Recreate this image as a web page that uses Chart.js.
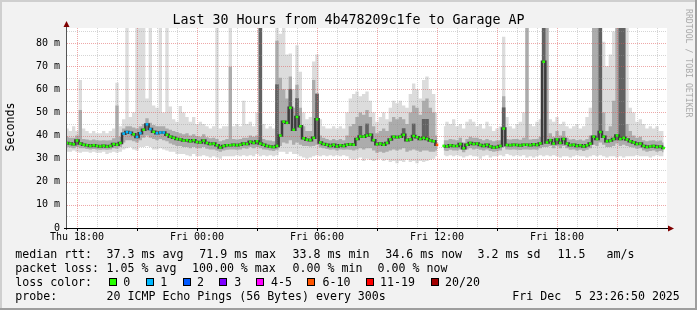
<!DOCTYPE html>
<html>
<head>
<meta charset="utf-8">
<script src="https://cdn.jsdelivr.net/npm/chart.js@4.4.1/dist/chart.umd.min.js"></script>
<style>
body { margin: 0; background: #f2f2f2; }
#wrap { position: relative; width: 697px; height: 310px; overflow: hidden; }
#c { position: absolute; left: 0; top: 0; }
.t { position: absolute; font-family: "DejaVu Sans Mono", monospace; color: #000; white-space: pre; }
.leg { font-size: 11.6px; line-height: 14px; }
.box { position: absolute; width: 8px; height: 8px; box-sizing: border-box; border: 1px solid #000; }
</style>
</head>
<body>
<div id="wrap">
<canvas id="c" width="697" height="310"></canvas>
</div>
<script>
// 30 hours, one slot every 10 minutes, starting Thu 17:30
const startHour = 17.5;
const slotStep = 1 / 6;

const tickHours = [18, 24, 30, 36, 42];
const tickLabels = ['Thu 18:00', 'Fri 00:00', 'Fri 06:00', 'Fri 12:00', 'Fri 18:00'];
const yTicks = [0, 10, 20, 30, 40, 50, 60, 70, 80];

// median rtt (ms)
const median = [
  36.8, 36.5, 36.2, 37.8, 36.5, 36, 35.8, 35.5, 35.8, 35.5,
  35.3, 35.6, 35.2, 35.5, 36.3, 36, 36.8, 40.8, 41.5, 41.2,
  40.5, 39.4, 41, 42.5, 44.8, 42.8, 41.6, 41, 41.3, 41.3,
  40.3, 39.5, 39, 38.5, 38.3, 37.8, 38, 37.5, 38, 37.2,
  37, 37.8, 36.8, 36.3, 36.5, 35.8, 34.8, 35.5, 35.8, 35.8,
  36, 35.8, 36, 36.5, 36.3, 37.3, 36.8, 37.5, 36.5, 36,
  35.5, 35.2, 35, 35.5, 40, 46, 45.5, 52, 42.5, 48,
  44, 38.8, 38.2, 38, 39, 47, 37, 36.3, 36, 35.5,
  36, 35.3, 35.8, 35.5, 36, 36.2, 36, 38.5, 39.6, 39.5,
  40, 40.3, 38, 36.2, 36.5, 36, 36.8, 38.3, 39.5, 39.2,
  39.5, 40.3, 38, 38.3, 39.8, 39.3, 38.5, 39, 38.5, 37.8,
  37.5, 36, null, 35.5, 35.3, 35.8, 35.5, 35.5, 36.3, 34.5,
  36, 36.8, 36.3, 36.5, 35.9, 35.5, 36, 35.3, 34.8, 35,
  35.5, 43, 35.9, 35.8, 36, 35.9, 35.7, 36, 36, 35.8,
  36.2, 35.9, 36.6, 71.9, 37, 38, 36.5, 38.3, 36.8, 38.5,
  36.5, 35.8, 36, 35.5, 35.8, 35.3, 35.8, 36.5, 39.5, 38.5,
  41.5, 39.5, 37.5, 37.8, 38.5, 40, 38.5, 39, 38.3, 37.5,
  37, 36.3, 36.5, 35.5, 35, 35.3, 35.5, 35, 35.3, 34.6
];

// smoke: lowest and highest ping of each slot
const smokeMin = [
  33, 33, 33.5, 33, 32.5, 33, 33, 32.5, 33, 32.5,
  32.5, 33, 32, 32.5, 33, 32.5, 33, 34, 34.5, 35,
  34, 33.5, 35, 35, 35.5, 35, 34, 34, 34.5, 34,
  33.5, 33, 33, 32, 32, 32, 31.5, 31, 32, 31,
  31, 31.5, 31, 30.5, 31, 30.5, 30, 31, 31, 31,
  31, 31.5, 31, 31.5, 31, 31.5, 31, 32, 31, 31.5,
  31, 31.5, 31, 31.5, 33, 33, 32, 33, 32, 32,
  31, 30.5, 30, 30.5, 31, 31.5, 31, 31.5, 31, 31.5,
  31, 31.5, 31, 31.5, 31, 30, 29.5, 30, 30.5, 29,
  30, 29.5, 29, 29.5, 30, 29, 29.5, 28.5, 29, 28,
  29, 28.5, 29.5, 28.5, 29, 28, 29, 28.5, 29, 29.5,
  30, 31, null, 31.5, 31, 31.5, 31, 31.5, 31, 30.5,
  31, 31.5, 31, 31, 30, 31, 31.5, 30.5, 31, 31,
  31.5, 31, 32, 31.5, 31, 31.5, 31, 31.5, 30.5, 31,
  30.5, 31, 31.5, 31, 31.5, 31, 31.5, 31, 30.5, 31,
  31, 30.5, 31, 31.5, 31, 31, 30.5, 31, 31.5, 31,
  31.5, 31, 30.5, 31, 31, 30.5, 31, 30.5, 31, 31,
  31, 31.5, 31, 31, 31, 30.5, 31, 31.5, 31, 31
];
const smokeMax = [
  43, 42, 44, 42, 64, 43, 42, 41, 42, 41,
  41, 42, 41, 42, 43, 62.8, 44, 47, 86.5, 48,
  50, 86.5, 86.5, 86.5, 56, 86.5, 53, 52, 86.5, 50,
  86.5, 52.5, 47, 46, 52.8, 50, 48, 46, 48, 45,
  46, 45, 44, 43, 44, 86.5, 43, 44, 44, 86.5,
  44, 45, 44, 55, 45, 46, 44, 50, 86.5, 45,
  43, 44, 43, 86.5, 84, 86.5, 75, 75.5, 60, 79,
  67.6, 50, 47, 48, 72, 75, 47, 44, 43, 43,
  44, 43, 44, 43, 50, 56, 58, 59, 57, 58,
  59, 55, 50, 46, 48, 50, 47, 52, 55, 54,
  55, 53, 52, 58, 62.5, 60, 56, 64, 65.5, 60,
  58, 50, null, 44, 46, 45, 47, 44, 45, 43,
  46, 47, 46, 44, 45, 43, 46, 44, 42, 43,
  44, 82.7, 48, 44, 43, 45, 46, 50, 86.5, 45,
  44, 46, 47, 86.5, 86.5, 47, 46, 48, 45, 46,
  44, 43, 44, 45, 43, 44, 48, 52, 86.5, 86.5,
  86.5, 80.6, 70, 75, 85, 86.5, 86.5, 86.5, 86.5, 52,
  50, 46, 47, 45, 43, 44, 43, 44, 42, 42
];
// smoke: the denser middle part of the pings
const midLo = [
  35, 34.8, 34.5, 35, 34.5, 34.5, 34.2, 34, 34.2, 34,
  33.8, 34, 33.8, 34, 34.5, 34.3, 35, 37, 38, 38,
  37.5, 37, 38, 39, 40, 39, 38.5, 38, 38.5, 38,
  37.5, 36.5, 36, 35.5, 35.5, 35, 35, 34.5, 35, 34.5,
  34.5, 35, 34.3, 34, 34, 33.5, 33, 33.5, 33.8, 34,
  34, 33.8, 34, 34.5, 34.3, 35, 34.5, 35, 34.5, 34,
  33.8, 33.5, 33.3, 33.8, 35.5, 37, 36.5, 38, 36, 37,
  36, 35.5, 35.5, 35.3, 35.5, 36, 34.8, 34.5, 34.2, 33.8,
  34, 33.5, 34, 33.8, 34, 33.8, 33.5, 34, 34.5, 34,
  34.5, 34.5, 33.5, 32.5, 33, 32.5, 33, 33.5, 34, 33.5,
  34, 34.5, 33, 33.5, 34, 33.5, 33, 33.5, 33.5, 33,
  33, 33.5, null, 33.5, 33.3, 33.8, 33.5, 33.5, 34, 32.8,
  34, 34.5, 34, 34.3, 33.8, 33.5, 34, 33.3, 33, 33.2,
  33.5, 35, 34, 33.8, 34, 33.8, 33.7, 34, 34, 33.8,
  34, 33.8, 34.5, 35, 35, 35.5, 34.5, 35.5, 34.5, 35.5,
  34.5, 33.8, 34, 33.5, 33.8, 33.3, 33.8, 34.5, 36, 35.5,
  37, 36, 35, 35, 35.5, 36.5, 35.5, 36, 35.5, 35,
  34.8, 34.3, 34.5, 33.5, 33, 33.3, 33.5, 33, 33.3, 32.8
];
const midHi = [
  39.5, 39, 39, 40, 51, 38.5, 38.3, 38, 38.3, 38,
  37.8, 38, 37.8, 38, 38.8, 53, 39.5, 43, 44, 44,
  43.5, 43, 44, 45, 47.5, 45.5, 44.5, 44, 44, 44,
  43, 42.5, 42, 41.5, 41, 40.5, 41, 40, 40.5, 39.8,
  39.5, 40.5, 39.3, 38.8, 39, 38.5, 37.5, 38, 38.5, 69.7,
  38.5, 38.3, 38.5, 39, 39, 40, 39.5, 40, 39.3, 38.5,
  38, 37.8, 37.5, 81, 65, 60, 56, 65.5, 52, 62,
  52, 44, 42, 42, 64, 58, 40, 39, 38.5, 38,
  38.5, 38, 38.5, 38, 40, 44, 45, 48, 50, 49,
  51, 48, 44, 41, 42, 43, 42, 46, 48, 47,
  48, 47, 45, 50, 53, 52, 49, 55, 56, 52,
  50, 40, null, 38, 38, 38.5, 38.3, 38, 39, 37,
  38.5, 39.5, 39, 39, 38.5, 38, 38.5, 38, 37.5, 37.8,
  38, 57, 38.5, 38.3, 38.5, 38.5, 38.2, 39, 86.5, 38.3,
  38.5, 38.5, 39.5, 86.5, 86.5, 41, 39.5, 42, 40, 42,
  39, 38.3, 38.5, 38, 38.3, 37.8, 38.5, 40, 86.5, 86.5,
  86.5, 50, 42, 44, 55, 86.5, 86.5, 86.5, 45, 42,
  40, 39, 39.5, 38, 37.5, 37.8, 38, 37.5, 37.8, 37
];
// slots where most pings were high (dark columns)
const darkSlots = [58, 63, 67, 69, 75, 88, 90, 101, 104, 107, 108, 131, 143, 160, 166, 167];
const darkTops = [86.5, 62, 60, 56, 58, 44, 45, 43, 45, 47, 47, 52, 86.5, 86.5, 86.5, 86.5];

// packet loss per slot (only slots with loss listed)
const lossSlots = [17, 18, 19, 21, 22, 24, 25, 27, 28, 29, 111];
const lossLevel = [1, 1, 1, 1, 1, 1, 1, 1, 1, 1, 5];
const lossLabels = ['0', '1', '2', '3', '4-5', '6-10', '11-19', '20/20'];
const lossColors = ['#26ff00', '#00b8ff', '#0059ff', '#7e00ff', '#ff00ff', '#ff5500', '#ff0000', '#a10000'];

const titleText = 'Last 30 Hours from 4b478209c1fe to Garage AP';
const rttStats = ['37.3 ms avg', '71.9 ms max', '33.8 ms min', '34.6 ms now', '3.2 ms sd', '11.5   am/s'];
const lossStats = ['1.05 % avg', '100.00 % max', '0.00 % min', '0.00 % now'];
const probeText = '20 ICMP Echo Pings (56 Bytes) every 300s';
const stampText = 'Fri Dec  5 23:26:50 2025';

// ---- build ----
const slotHours = median.map((v, i) => startHour + i * slotStep);
const xy = arr => arr.map((v, i) => ({ x: slotHours[i], y: v }));

const pointColors = median.map(() => lossColors[0]);
lossSlots.forEach((k, i) => { pointColors[k] = lossColors[lossLevel[i]]; });

function drawGrid(chart) {
  const ctx = chart.ctx, a = chart.chartArea, sx = chart.scales.x, sy = chart.scales.y;
  ctx.save();
  ctx.lineWidth = 1;
  ctx.setLineDash([1, 1]);
  const red = 'rgba(222,81,81,0.5)', gray = 'rgba(150,150,150,0.4)';
  for (let v = 5; v <= 85; v += 5) {
    const py = Math.round(sy.getPixelForValue(v)) + 0.5;
    ctx.strokeStyle = v % 10 === 0 ? red : gray;
    ctx.beginPath(); ctx.moveTo(a.left, py); ctx.lineTo(a.right, py); ctx.stroke();
  }
  for (let h = 18; h <= 47; h++) {
    const px = Math.round(sx.getPixelForValue(h)) + 0.5;
    ctx.strokeStyle = h % 3 === 0 ? red : gray;
    ctx.beginPath(); ctx.moveTo(px, a.top); ctx.lineTo(px, a.bottom); ctx.stroke();
  }
  ctx.restore();
}

const rrdFrame = {
  id: 'rrdFrame',
  beforeDraw(chart) {
    const ctx = chart.ctx, a = chart.chartArea, w = chart.width, h = chart.height;
    ctx.save();
    ctx.fillStyle = '#f2f2f2'; ctx.fillRect(0, 0, w, h);
    ctx.fillStyle = '#cfcfcf'; ctx.fillRect(0, 0, w, 2); ctx.fillRect(0, 0, 2, h);
    ctx.fillStyle = '#9e9e9e'; ctx.fillRect(0, h - 2, w, 2); ctx.fillRect(w - 2, 0, 2, h);
    ctx.fillStyle = '#ffffff'; ctx.fillRect(a.left, a.top, a.right - a.left, a.bottom - a.top);
    ctx.restore();
  },
  afterDatasetDraw(chart, args) {
    if (args.index === 4) drawGrid(chart);
  },
  afterDraw(chart) {
    const ctx = chart.ctx, a = chart.chartArea, sx = chart.scales.x;
    ctx.save();
    ctx.lineWidth = 1;
    ctx.strokeStyle = '#555';
    ctx.beginPath(); ctx.moveTo(a.left - 0.5, a.bottom + 2); ctx.lineTo(a.left - 0.5, 25); ctx.stroke();
    ctx.strokeStyle = '#000';
    ctx.beginPath(); ctx.moveTo(a.left - 3, a.bottom + 0.5); ctx.lineTo(a.right + 1, a.bottom + 0.5); ctx.stroke();
    for (let hr = 18; hr <= 47; hr += 3) {
      const px = Math.round(sx.getPixelForValue(hr)) + 0.5;
      ctx.beginPath(); ctx.moveTo(px, a.bottom + 1); ctx.lineTo(px, a.bottom + 3); ctx.stroke();
    }
    ctx.fillStyle = '#7f0000';
    ctx.beginPath(); ctx.moveTo(a.right + 1, a.bottom - 2.5); ctx.lineTo(a.right + 7, a.bottom + 0.5); ctx.lineTo(a.right + 1, a.bottom + 3.5); ctx.fill();
    ctx.beginPath(); ctx.moveTo(a.left - 3.5, 27); ctx.lineTo(a.left - 0.5, 21); ctx.lineTo(a.left + 2.5, 27); ctx.fill();
    ctx.restore();
  }
};

const monoTick = { family: 'DejaVu Sans Mono', size: 10 };

new Chart(document.getElementById('c'), {
  type: 'line',
  data: {
    datasets: [
      { label: 'smoke min', data: xy(smokeMin), stepped: 'middle', borderWidth: 0, borderColor: 'rgba(0,0,0,0)', pointRadius: 0, fill: false, order: 10 },
      { label: 'smoke max', data: xy(smokeMax), stepped: 'middle', borderWidth: 0, borderColor: 'rgba(0,0,0,0)', pointRadius: 0, fill: '-1', backgroundColor: '#dcdcdc', order: 9 },
      { label: 'mid low', data: xy(midLo), stepped: 'middle', borderWidth: 0, borderColor: 'rgba(0,0,0,0)', pointRadius: 0, fill: false, order: 8 },
      { label: 'mid high', data: xy(midHi), stepped: 'middle', borderWidth: 0, borderColor: 'rgba(0,0,0,0)', pointRadius: 0, fill: '-1', backgroundColor: '#acacac', order: 7 },
      { type: 'bar', label: 'dark', data: darkSlots.map((k, i) => ({ x: slotHours[k], y: [median[k], darkTops[i]] })), backgroundColor: '#626262', barThickness: 3, order: 6 },
      { label: 'median rtt', data: xy(median), stepped: 'middle', borderColor: '#3c3c3c', borderWidth: 2.5, fill: false,
        pointStyle: 'rect', pointRadius: 1.8, pointBorderWidth: 0, pointBackgroundColor: pointColors, order: 1 }
    ]
  },
  options: {
    responsive: false,
    animation: false,
    devicePixelRatio: 1,
    layout: { padding: { left: 0, right: 30, top: 28, bottom: 62 } },
    plugins: { legend: { display: false }, tooltip: { enabled: false }, title: { display: false } },
    elements: { line: { tension: 0 } },
    scales: {
      x: {
        type: 'linear', min: 17.5, max: 47.5, offset: false,
        grid: { display: false, drawTicks: false }, border: { display: false },
        afterBuildTicks: s => { s.ticks = tickHours.map(v => ({ value: v })); },
        afterFit: s => { s.height = 20; },
        ticks: { autoSkip: false, maxRotation: 0, padding: 3, color: '#000', font: monoTick,
          callback: v => tickLabels[tickHours.indexOf(v)] }
      },
      y: {
        min: 0, max: 86.5,
        grid: { display: false, drawTicks: false }, border: { display: false },
        afterBuildTicks: s => { s.ticks = yTicks.map(v => ({ value: v })); },
        afterFit: s => { s.width = 67; },
        ticks: { padding: 7, color: '#000', font: monoTick, callback: v => v === 0 ? '0' : v + ' m' }
      }
    }
  },
  plugins: [rrdFrame]
});

// ---- text around the graph ----
const wrap = document.getElementById('wrap');
function addText(txt, left, top, cls, extra) {
  const d = document.createElement('div');
  d.className = 't ' + (cls || '');
  d.textContent = txt;
  d.style.left = left + 'px';
  d.style.top = top + 'px';
  if (extra) Object.assign(d.style, extra);
  wrap.appendChild(d);
  return d;
}
addText(titleText, 0, 11.7, '', { width: '697px', textAlign: 'center', fontSize: '13.3px', lineHeight: '16px' });
addText('Seconds', -30, 120, 'leg', { width: '80px', textAlign: 'center', transform: 'rotate(-90deg)' });
addText('RRDTOOL / TOBI OETIKER', 639, 53, '', { width: '100px', textAlign: 'center', fontSize: '8.2px', lineHeight: '12px', color: '#a9a9a9', transform: 'rotate(90deg)' });

const rowTop = [246.5, 260.5, 274.5, 288.5];
addText('median rtt:', 15.3, rowTop[0], 'leg');
[106.6, 199.3, 292.6, 385.3, 477.6, 557.6].forEach((x, i) => addText(rttStats[i], x, rowTop[0], 'leg'));
addText('packet loss:', 15.3, rowTop[1], 'leg');
[106.6, 192, 292.6, 377.6].forEach((x, i) => addText(lossStats[i], x, rowTop[1], 'leg'));
addText('loss color:', 15.3, rowTop[2], 'leg');
const boxLeft = [108.7, 145.7, 182.7, 219.3, 256.3, 307.3, 365.7, 430.7];
const boxText = [123.3, 160.3, 197, 234.3, 271, 322.6, 380, 445];
lossLabels.forEach((lab, i) => {
  const b = document.createElement('div');
  b.className = 'box';
  b.style.left = boxLeft[i] + 'px';
  b.style.top = '278px';
  b.style.background = lossColors[i];
  wrap.appendChild(b);
  addText(lab, boxText[i], rowTop[2], 'leg');
});
addText('probe:', 15.3, rowTop[3], 'leg');
addText(probeText, 106.6, rowTop[3], 'leg');
addText(stampText, 512.3, rowTop[3], 'leg');
</script>
</body>
</html>
